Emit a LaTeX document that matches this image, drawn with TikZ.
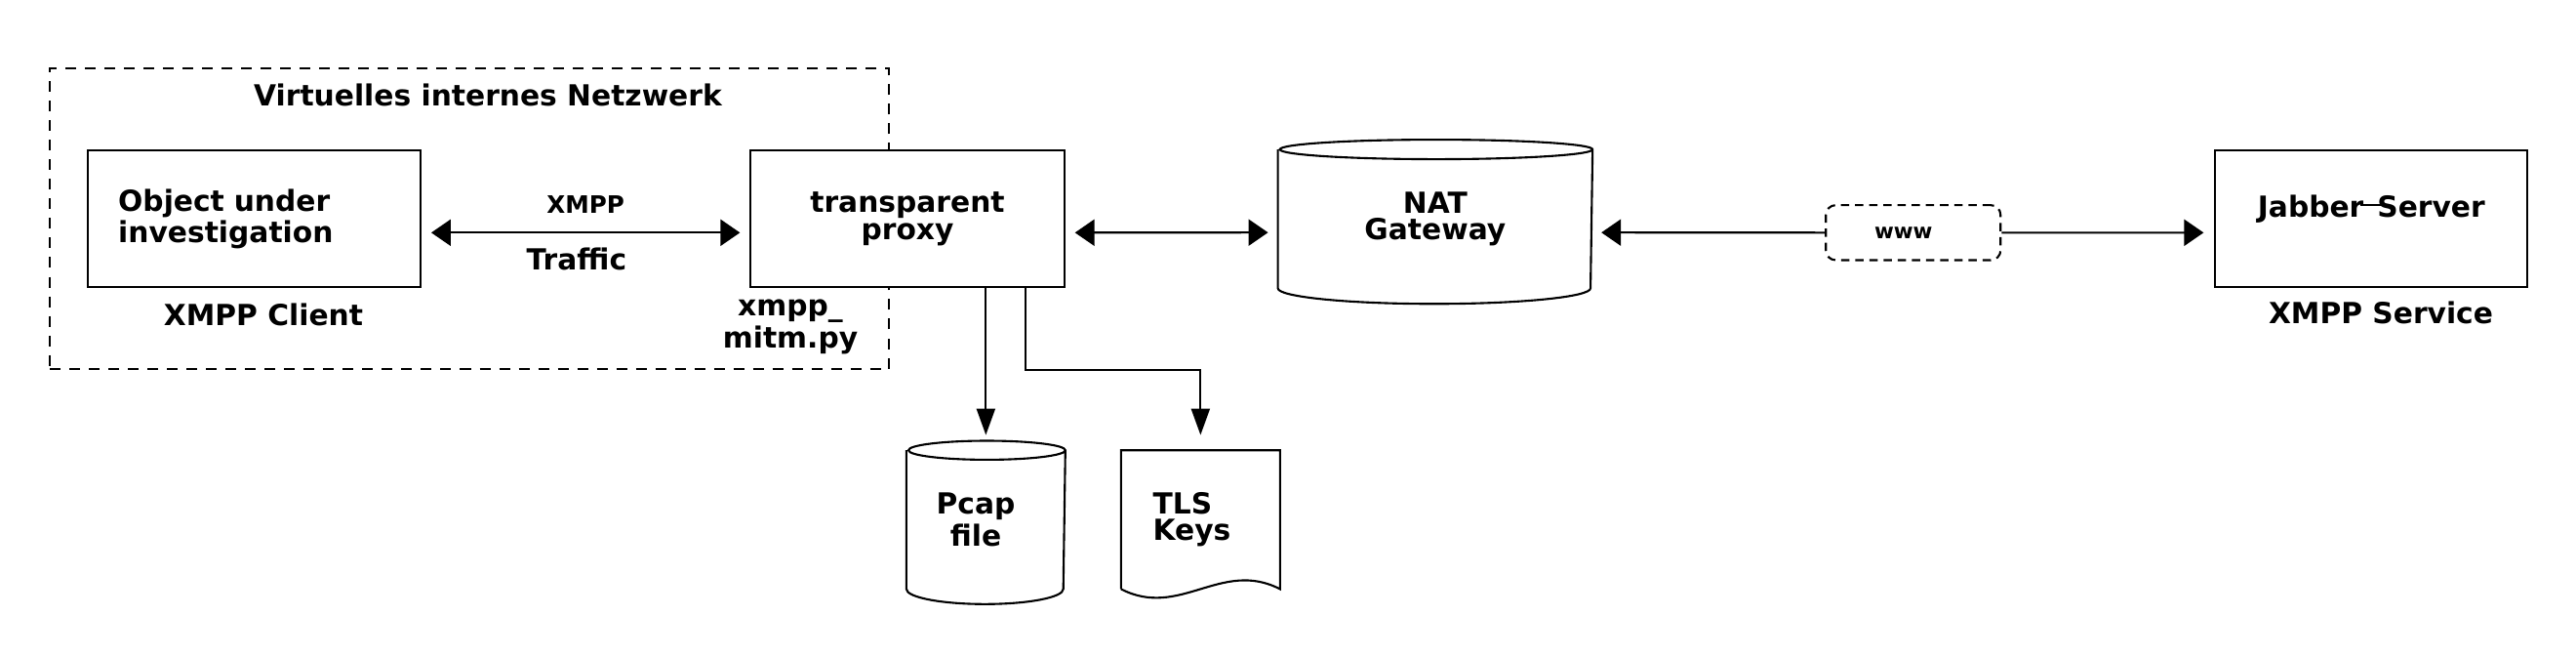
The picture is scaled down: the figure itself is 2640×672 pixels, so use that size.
\documentclass[tikz,border=0pt]{standalone}
\usepackage{fontspec}
\setmainfont{DejaVu Sans}
\usetikzlibrary{arrows.meta,positioning}

\tikzset{
  box/.style={draw, fill=white, minimum width=3.21cm, minimum height=1.4cm, inner sep=0pt, align=center},
  netbox/.style={draw, dash pattern=on 0.11cm off 0.09cm, inner sep=0pt},
  wwwbox/.style={draw, fill=white, rounded corners=0.1cm, dash pattern=on 0.085cm off 0.06cm,
    minimum width=1.789cm, minimum height=0.563cm, inner sep=0pt, font=\bfseries\fontsize{6.1}{7}\selectfont},
  store/.style={minimum width=1.607cm, minimum height=1.4cm, inner sep=0pt, align=center},
  small/.style={font=\bfseries\fontsize{7}{7}\selectfont},
  harrow/.style={{Triangle[length=0.2cm, width=0.27cm]}-{Triangle[length=0.2cm, width=0.27cm]}, shorten <=0.1cm, shorten >=0.1cm},
  varrow/.style={-{Triangle[length=0.27cm, width=0.19cm]}, shorten >=0.156cm}
}

\begin{document}
\begin{tikzpicture}[x=0.01cm, y=-0.01cm, line width=0.6pt,
    every node/.style={font=\bfseries\fontsize{8.45}{7.7}\selectfont}]
  \useasboundingbox (0,0) rectangle (2640,672);

  % arrows sit a bit below the box middles
  \def\ay{-0.14cm}

  % internal network
  \node[netbox, minimum width=8.591cm, minimum height=3.083cm] (vnet) at (481.05,224.15) {};
  \node[anchor=base] (vnettitle) at (500,108.3) {Virtuelles internes Netzwerk};

  % boxes
  \node[box, text width=2.785cm, inner xsep=0.31cm, align=left] (client) at (260.55,224.3) {Object under\\investigation};
  \node[box] (proxy) at (930,224.3) {transparent\\proxy};
  \node[box, minimum width=3.2cm] (jabber) at (2430.3,224.3)
    {Jabber\kern-0.03cm\rule[0.11cm]{0.23cm}{0.45pt}\kern-0.06cm Server\\\mbox{}};
  \node[wwwbox] (www) at (1960.75,238.3) {www\kern0.2cm};

  % labels under the boxes
  \node[anchor=base] (clientlbl) at (270,333.3) {XMPP Client};
  \node[anchor=base, align=center] (proxylbl) at (810,356.7) {xmpp\_\\mitm.py};
  \node[anchor=base] (jabberlbl) at (2440,331.7) {XMPP Service};

  % NAT gateway
  \node[store, minimum width=3.203cm] (nat) at (1470.85,224.15) {};
  \draw[fill=white] (nat.north west) -- (nat.south west)
    arc[start angle=180, end angle=360, x radius=1.6015cm, y radius=0.16cm]
    -- (nat.north east)
    arc[start angle=0, end angle=360, x radius=1.6015cm, y radius=0.1cm];
  \node[store] (nattxt) at (nat) {NAT\\Gateway};

  % pcap file
  \node[store] (pcap) at (1010.35,532.3) {};
  \draw[fill=white] (pcap.north west) -- (pcap.south west)
    arc[start angle=180, end angle=360, x radius=0.8035cm, y radius=0.154cm]
    -- (pcap.north east)
    arc[start angle=0, end angle=360, x radius=0.8035cm, y radius=0.097cm];
  \node[store] (pcaptxt) at (1000,532.3) {Pcap\\file};

  % tls keys
  \node[store] (tls) at (1230.35,532.3) {};
  \draw[fill=white] (tls.south west) -- (tls.north west) -- (tls.north east) -- (tls.south east)
    .. controls +(-0.6cm,0.31cm) and +(0.6cm,-0.31cm) .. (tls.south west);
  \node[store, text width=0.973cm, inner xsep=0.317cm, align=left] (tlstxt) at (tls) {TLS\\Keys};

  % connectors
  \draw[harrow] ([yshift=\ay]client.east) --
    node[small, anchor=base, yshift=0.2cm] (xmpplbl) {XMPP}
    node[anchor=base, yshift=-0.384cm, xshift=-0.092cm] (trafficlbl) {Traffic}
    ([yshift=\ay]proxy.west);
  \draw[harrow] ([yshift=\ay]proxy.east) -- ([yshift=\ay]nat.west);
  \draw[{Triangle[length=0.2cm, width=0.27cm]}-, shorten <=0.09cm] ([yshift=\ay]nat.east) -- (www.west);
  \draw[-{Triangle[length=0.2cm, width=0.27cm]}, shorten >=0.108cm] (www.east) -- ([yshift=\ay]jabber.west);

  \draw[varrow] (proxy.south -| pcap.north) -- (pcap.north);
  \coordinate (keytap) at ([xshift=1.207cm]proxy.south);
  \draw[varrow] (keytap) -- ++(0,84) -| (tls.north);
\end{tikzpicture}
\end{document}
